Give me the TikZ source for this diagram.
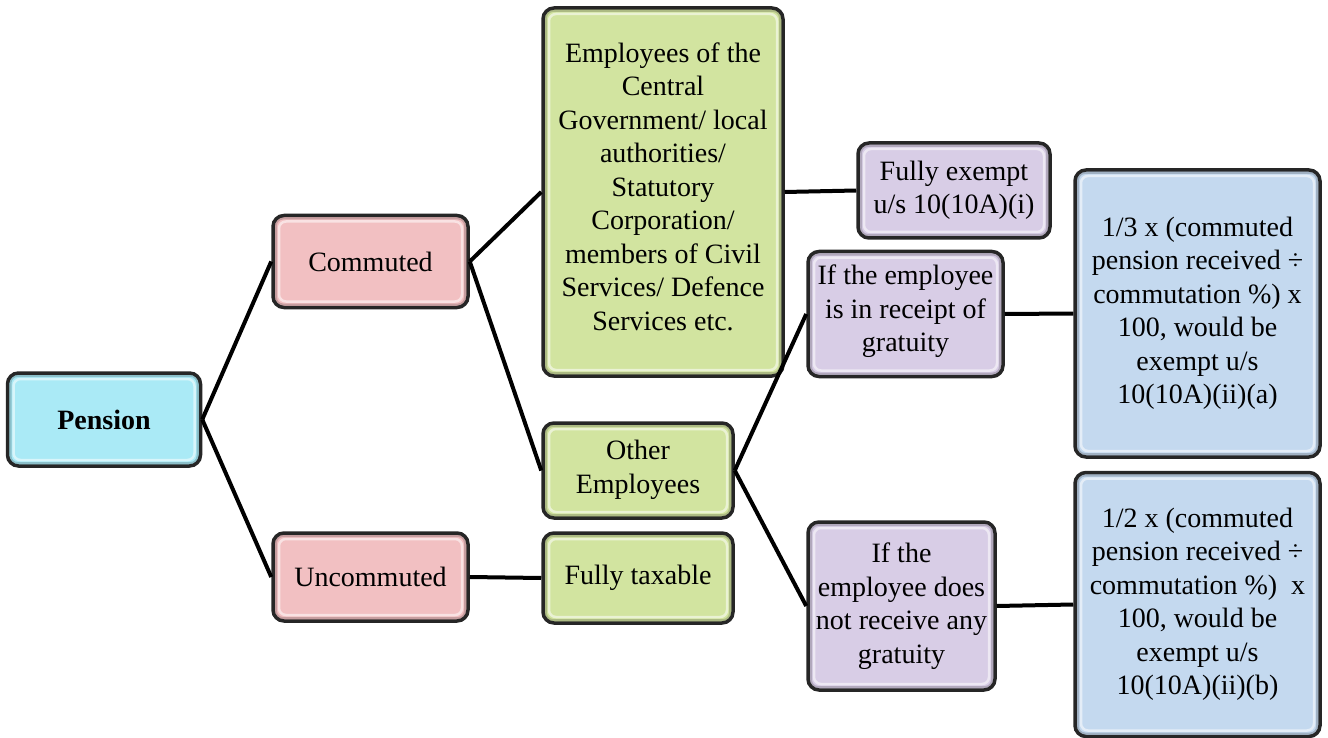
\documentclass[tikz,border=0pt]{standalone}
\usepackage{fontspec}
\setmainfont{Liberation Serif}
\usetikzlibrary{calc}
\definecolor{cPen}{RGB}{170,234,246}
\definecolor{cPink}{RGB}{242,192,194}
\definecolor{cGreen}{RGB}{210,228,160}
\definecolor{cPurp}{RGB}{216,205,230}
\definecolor{cBlue}{RGB}{196,217,239}
\tikzset{
  box/.style={draw=black!85, line width=3.5pt, rounded corners=11pt, inner sep=0pt,
    align=center, font=\fontsize{28}{33.5}\selectfont,
    path picture={
      \draw[white, opacity=0.55, line width=2.5pt, rounded corners=7pt]
        ($(path picture bounding box.south west)+(6pt,6pt)$) rectangle
        ($(path picture bounding box.north east)+(-6pt,-6pt)$);
      \draw[black, opacity=0.18, line width=2pt, rounded corners=7pt]
        ($(path picture bounding box.south west)+(3pt,3pt)$) rectangle
        ($(path picture bounding box.north east)+(-3pt,-3pt)$);
    }},
  conn/.style={line width=4pt, black}
}
\begin{document}
\begin{tikzpicture}[x=1pt,y=-1pt]
\useasboundingbox (0,0) rectangle (1328,738);
\node[box, fill=cPen, minimum width=193pt, minimum height=93pt] (P) at (104,419.5) {\textbf{Pension}};
\node[box, fill=cPink, minimum width=195pt, minimum height=92pt] (C) at (370.5,261.5) {Commuted};
\node[box, fill=cPink, minimum width=195pt, minimum height=88pt] (U) at (370.5,577) {Uncommuted};
\node[box, fill=cGreen, minimum width=240pt, minimum height=368pt] (E) at (663,192) {Employees of the\\Central\\Government/ local\\authorities/\\Statutory\\Corporation/\\members of Civil\\Services/ Defence\\Services etc.\\[-22pt]\mbox{}};
\node[box, fill=cGreen, minimum width=190pt, minimum height=95pt] (O) at (638,470.5) {Other\\Employees\\[-26pt]\mbox{}};
\node[box, fill=cGreen, minimum width=190pt, minimum height=90pt] (T) at (638,578) {Fully taxable};
\node[box, fill=cPurp, minimum width=192pt, minimum height=95pt] (FE) at (954,190.5) {Fully exempt\\u/s 10(10A)(i)};
\node[box, fill=cPurp, minimum width=195pt, minimum height=125pt] (R) at (905.5,314) {If the employee\\is in receipt of\\gratuity\\[-22pt]\mbox{}};
\node[box, fill=cPurp, minimum width=187pt, minimum height=168pt] (N) at (901.5,606) {If the\\employee does\\not receive any\\gratuity};
\node[box, fill=cBlue, minimum width=245pt, minimum height=287pt] (B1) at (1197.5,313.5) {1/3 x (commuted\\pension received ÷\\commutation \%) x\\100, would be\\exempt u/s\\10(10A)(ii)(a)};
\node[box, fill=cBlue, minimum width=245pt, minimum height=264pt] (B2) at (1197.5,604.5) {1/2 x (commuted\\pension received ÷\\commutation \%)\ \ x\\100, would be\\exempt u/s\\10(10A)(ii)(b)};
\draw[conn] (P.east) -- (C.west);
\draw[conn] (P.east) -- (U.west);
\draw[conn] (C.east) -- (E.west);
\draw[conn] (C.east) -- (O.west);
\draw[conn] (U.east) -- (T.west);
\draw[conn] (E.east) -- (FE.west);
\draw[conn] (O.east) -- (R.west);
\draw[conn] (O.east) -- (N.west);
\draw[conn] (R.east) -- (B1.west);
\draw[conn] (N.east) -- (B2.west);
\end{tikzpicture}
\end{document}
